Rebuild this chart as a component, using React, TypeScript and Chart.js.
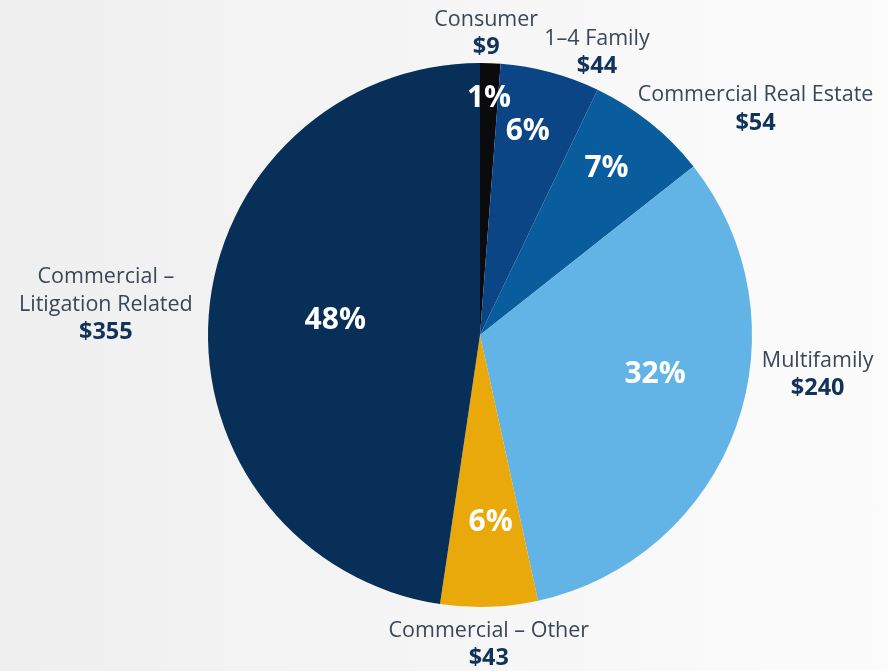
import React, { useEffect, useRef } from "react";
import { Chart, registerables } from "chart.js";

Chart.register(...registerables);

const categories = [
  "Consumer",
  "1–4 Family",
  "Commercial Real Estate",
  "Multifamily",
  "Commercial – Other",
  "Commercial – Litigation Related",
];
const labelLines = [
  ["Consumer"],
  ["1–4 Family"],
  ["Commercial Real Estate"],
  ["Multifamily"],
  ["Commercial – Other"],
  ["Commercial –", "Litigation Related"],
];
const values = [9, 44, 54, 240, 43, 355];
const colors = ["#0b0b0d", "#0b4585", "#0a5d9d", "#63b4e6", "#e9a90b", "#082f57"];

// label layout: [radius fraction, angle offset in degrees]
const pctLayout: [number, number][] = [
  [0.87, 0],
  [0.77, -1.8],
  [0.77, -1.5],
  [0.66, -7],
  [0.69, -1.3],
  [0.535, 1.7],
];
const outerLayout: [number, number][] = [
  [1.11, -1],
  [1.125, 7.5],
  [1.31, 12],
  [1.25, -13],
  [1.14, 0.3],
  [1.38, 0.4],
];

const FONT = "'Open Sans', 'DejaVu Sans', sans-serif";

const labelPlugin = {
  id: "sliceLabels",
  afterDatasetsDraw(chart: any) {
    const ctx = chart.ctx;
    const meta = chart.getDatasetMeta(0);
    const total = values.reduce((a, b) => a + b, 0);
    ctx.save();
    ctx.textAlign = "center";
    ctx.textBaseline = "middle";
    meta.data.forEach((arc: any, i: number) => {
      const p = arc.getProps(["x", "y", "startAngle", "endAngle", "outerRadius"], true);
      const mid = (p.startAngle + p.endAngle) / 2;
      // percentage
      const [rf, da] = pctLayout[i];
      const a1 = mid + (da * Math.PI) / 180;
      const px = p.x + Math.cos(a1) * p.outerRadius * rf;
      const py = p.y + Math.sin(a1) * p.outerRadius * rf;
      ctx.fillStyle = "#ffffff";
      ctx.font = `bold 30px ${FONT}`;
      ctx.fillText(Math.round((values[i] / total) * 100) + "%", px, py);
      // outer label
      const [orf, oda] = outerLayout[i];
      const a2 = mid + (oda * Math.PI) / 180;
      const ox = p.x + Math.cos(a2) * p.outerRadius * orf;
      const oy = p.y + Math.sin(a2) * p.outerRadius * orf;
      const lines = labelLines[i];
      const lh = 27.5;
      const n = lines.length + 1;
      const top = oy - ((n - 1) * lh) / 2;
      ctx.fillStyle = "#3a4757";
      ctx.font = `21.5px ${FONT}`;
      lines.forEach((t, k) => ctx.fillText(t, ox, top + k * lh));
      ctx.fillStyle = "#11335a";
      ctx.font = `bold 23.5px ${FONT}`;
      ctx.fillText("$" + values[i], ox, top + lines.length * lh);
    });
    ctx.restore();
  },
};

export default function App() {
  const ref = useRef<HTMLCanvasElement>(null);
  useEffect(() => {
    document.body.style.margin = "0";
    const chart = new Chart(ref.current!, {
      type: "pie",
      data: {
        labels: categories,
        datasets: [
          {
            data: values,
            backgroundColor: colors,
            borderWidth: 0,
          },
        ],
      },
      options: {
        animation: false,
        responsive: false,
        maintainAspectRatio: false,
        layout: { padding: { left: 208, right: 136, top: 63, bottom: 64 } },
        plugins: {
          legend: { display: false },
          tooltip: { enabled: false },
        },
      },
      plugins: [labelPlugin],
    });
    return () => chart.destroy();
  }, []);
  return (
    <div
      style={{
        position: "absolute",
        left: 0,
        top: 0,
        width: 888,
        height: 671,
        background: "linear-gradient(to right, #efefef 0%, #f4f4f4 40%, #fcfcfc 100%)",
      }}
    >
      <canvas ref={ref} width={888} height={671} style={{ display: "block" }} />
    </div>
  );
}
